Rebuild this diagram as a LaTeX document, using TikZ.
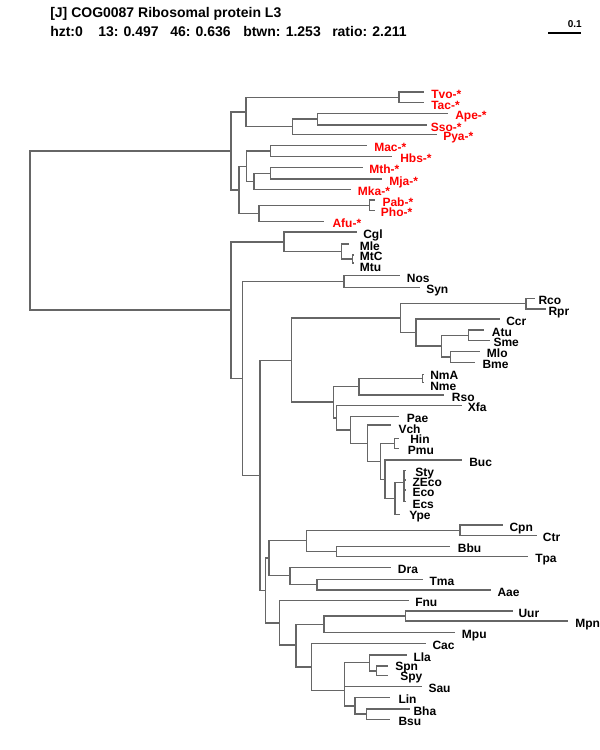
\documentclass[tikz,border=0pt]{standalone}
\usepackage{fontspec}
\setmainfont{Liberation Sans}
\definecolor{edgec}{HTML}{666666}
\definecolor{arch}{HTML}{FF0000}
\begin{document}
\begin{tikzpicture}[x=0.75pt,y=-0.75pt,
 br/.style={draw=edgec,line width=1.15pt},
 lf/.style={anchor=base west,inner sep=0pt,font=\bfseries\fontsize{9}{10}\selectfont},
 rl/.style={lf,text=arch},
 hd/.style={anchor=base west,inner sep=0pt,font=\bfseries\fontsize{10.5}{12}\selectfont}]
\useasboundingbox (0,0) rectangle (600,750);
% header
\node[hd] (title) at (50,17) {[J] COG0087 Ribosomal protein L3};
\node[hd] (h1) at (50,36) {hzt:0};
\node[hd] (h2) at (98,36) {13: 0.497};
\node[hd] (h3) at (170,36) {46: 0.636};
\node[hd] (h4) at (243,36) {btwn: 1.253};
\node[hd] (h5) at (332,36) {ratio: 2.211};
\coordinate (sb1) at (548,33);
\coordinate (sb2) at (581,33);
\draw[line width=0.9pt] (sb1) -- (sb2);
\node[anchor=base east,inner sep=0pt,font=\bfseries\fontsize{7.5}{9}\selectfont] (sbl) at (582,27) {0.1};
% internal nodes
\coordinate (R) at (30,230.5);
\coordinate (A) at (231,151);
\coordinate (B) at (231,310);
\coordinate (A1) at (246,112);
\coordinate (A11) at (399,97.3);
\coordinate (A12) at (292.7,126.7);
\coordinate (A121) at (317.7,119);
\coordinate (A2) at (239,190);
\coordinate (A21) at (246.7,166.5);
\coordinate (A211) at (270.7,151.2);
\coordinate (A212) at (254,181.5);
\coordinate (A2121) at (270.7,173.3);
\coordinate (A22) at (259,213.7);
\coordinate (A221) at (369.7,205.3);
\coordinate (B1) at (284,241.8);
\coordinate (B11) at (341.7,251.5);
\coordinate (B111) at (352.7,259);
\coordinate (B2) at (242.7,378.5);
\coordinate (NS) at (344,281.5);
\coordinate (B3) at (260,475.5);
\coordinate (P) at (291.7,360.5);
\coordinate (P1) at (400.7,318.1);
\coordinate (RR) at (526,303.6);
\coordinate (P11) at (416,332.7);
\coordinate (P111) at (441.7,346.2);
\coordinate (P1111) at (468.3,335.3);
\coordinate (P1112) at (450.7,357);
\coordinate (P2) at (333.3,402.2);
\coordinate (P21) at (359,386.7);
\coordinate (NN) at (422.7,378.3);
\coordinate (P22) at (336.7,417.8);
\coordinate (P221) at (350.7,430);
\coordinate (P2211) at (367.3,443.3);
\coordinate (P2212) at (380.7,461.5);
\coordinate (HP) at (394.3,443.3);
\coordinate (P2213) at (385,479.5);
\coordinate (P2214) at (395,498.5);
\coordinate (E) at (404,482.7);
\coordinate (B4) at (265.3,590.7);
\coordinate (C) at (269,558.2);
\coordinate (C1) at (306.7,540.7);
\coordinate (CC) at (460,530.3);
\coordinate (BT) at (336.7,551.7);
\coordinate (C2) at (290,575.5);
\coordinate (TA) at (317,584.7);
\coordinate (D) at (279.3,622.8);
\coordinate (D1) at (296,645);
\coordinate (D11) at (324,624.7);
\coordinate (UM) at (405.3,616);
\coordinate (D12) at (311.7,667);
\coordinate (D121) at (344.3,690.5);
\coordinate (D1211) at (344.3,674.5);
\coordinate (L) at (369.3,662.3);
\coordinate (SS) at (376.7,670.8);
\coordinate (D1212) at (355,705.8);
\coordinate (BB) at (366.7,714);
% leaf ends
\coordinate (tvo) at (424,92);
\coordinate (tac) at (424,102.7);
\coordinate (ape) at (447.7,113.3);
\coordinate (sso) at (426.7,125);
\coordinate (pya) at (436.7,134.3);
\coordinate (mac) at (366.7,145.7);
\coordinate (hbs) at (392.3,156.7);
\coordinate (mth) at (362.7,167.7);
\coordinate (mja) at (382.3,179);
\coordinate (mka) at (351,189.7);
\coordinate (pab) at (375,200);
\coordinate (pho) at (375,210.7);
\coordinate (afu) at (324.3,221.7);
\coordinate (cgl) at (356.7,232);
\coordinate (mle) at (349.3,244);
\coordinate (mtc) at (354,255);
\coordinate (mtu) at (354,263);
\coordinate (nos) at (400,275.7);
\coordinate (syn) at (420,287.3);
\coordinate (rco) at (535,298.3);
\coordinate (rpr) at (545.7,309);
\coordinate (ccr) at (500,319);
\coordinate (atu) at (484,330);
\coordinate (sme) at (490,340.7);
\coordinate (mlo) at (480,351.7);
\coordinate (bme) at (475,362.3);
\coordinate (nma) at (424,374.3);
\coordinate (nme) at (424,382.3);
\coordinate (rso) at (444,395);
\coordinate (xfa) at (461.7,405.7);
\coordinate (pae) at (399,416.7);
\coordinate (vch) at (391,425);
\coordinate (hin) at (399,438.3);
\coordinate (pmu) at (399,448.3);
\coordinate (buc) at (461.7,460);
\coordinate (sty) at (406,470.7);
\coordinate (zeco) at (406,480);
\coordinate (eco) at (406,490);
\coordinate (ecs) at (406,501.7);
\coordinate (ype) at (400,514.3);
\coordinate (cpn) at (502.7,525);
\coordinate (ctr) at (536.7,535.7);
\coordinate (bbu) at (450,546.7);
\coordinate (tpa) at (528.3,556.7);
\coordinate (dra) at (391,567.7);
\coordinate (tma) at (422.7,579.3);
\coordinate (aae) at (490.7,590);
\coordinate (fnu) at (409,600.7);
\coordinate (uur) at (513.3,611);
\coordinate (mpn) at (568.3,621);
\coordinate (mpu) at (455,632.7);
\coordinate (cac) at (426,643.3);
\coordinate (lla) at (406.7,655);
\coordinate (spn) at (388.3,666);
\coordinate (spy) at (388.3,675.7);
\coordinate (sau) at (421.7,686.7);
\coordinate (lin) at (390,697.7);
\coordinate (bha) at (410,709);
\coordinate (bsu) at (390,719.3);
% edges
\foreach \p/\c in {R/A,R/B,A/A1,A/A2,A1/A11,A1/A12,A11/tvo,A11/tac,A12/A121,A12/pya,
  A121/ape,A121/sso,A2/A21,A2/A22,A21/A211,A21/A212,A211/mac,A211/hbs,A212/A2121,A212/mka,
  A2121/mth,A2121/mja,A22/A221,A22/afu,A221/pab,A221/pho,
  B/B1,B/B2,B1/cgl,B1/B11,B11/mle,B11/B111,B111/mtc,B111/mtu,B2/NS,B2/B3,NS/nos,NS/syn,
  B3/P,B3/B4,P/P1,P/P2,P1/RR,P1/P11,RR/rco,RR/rpr,P11/ccr,P11/P111,P111/P1111,P111/P1112,
  P1111/atu,P1111/sme,P1112/mlo,P1112/bme,P2/P21,P2/P22,P21/NN,P21/rso,NN/nma,NN/nme,
  P22/xfa,P22/P221,P221/pae,P221/P2211,P2211/vch,P2211/P2212,P2212/HP,P2212/P2213,
  HP/hin,HP/pmu,P2213/buc,P2213/P2214,P2214/E,P2214/ype,E/sty,E/zeco,E/eco,E/ecs,
  B4/C,B4/D,C/C1,C/C2,C1/CC,C1/BT,CC/cpn,CC/ctr,BT/bbu,BT/tpa,C2/dra,C2/TA,TA/tma,TA/aae,
  D/fnu,D/D1,D1/D11,D1/D12,D11/UM,D11/mpu,UM/uur,UM/mpn,D12/cac,D12/D121,
  D121/D1211,D121/D1212,D1211/L,D1211/sau,L/lla,L/SS,SS/spn,SS/spy,D1212/lin,D1212/BB,
  BB/bha,BB/bsu}
  \draw[br] (\p) |- (\c);
% labels: archaea
\node[rl] (Ltvo) at (431,98) {Tvo-*};
\node[rl] (Ltac) at (431,109) {Tac-*};
\node[rl] (Lape) at (455,119.5) {Ape-*};
\node[rl] (Lsso) at (430.7,131) {Sso-*};
\node[rl] (Lpya) at (443,140.5) {Pya-*};
\node[rl] (Lmac) at (374,151.7) {Mac-*};
\node[rl] (Lhbs) at (400,162.7) {Hbs-*};
\node[rl] (Lmth) at (369,173.7) {Mth-*};
\node[rl] (Lmja) at (389,185) {Mja-*};
\node[rl] (Lmka) at (357.7,195.7) {Mka-*};
\node[rl] (Lpab) at (382.3,206) {Pab-*};
\node[rl] (Lpho) at (380.7,216.7) {Pho-*};
\node[rl] (Lafu) at (332.3,227.7) {Afu-*};
% labels: bacteria
\node[lf] (Lcgl) at (363,238.5) {Cgl};
\node[lf] (Lmle) at (359.5,250) {Mle};
\node[lf] (Lmtc) at (359.5,260) {MtC};
\node[lf] (Lmtu) at (359.5,271) {Mtu};
\node[lf] (Lnos) at (406.7,282) {Nos};
\node[lf] (Lsyn) at (426,293.5) {Syn};
\node[lf] (Lrco) at (538.3,304.3) {Rco};
\node[lf] (Lrpr) at (548.3,315) {Rpr};
\node[lf] (Lccr) at (506,325) {Ccr};
\node[lf] (Latu) at (491.7,336) {Atu};
\node[lf] (Lsme) at (493.3,346.7) {Sme};
\node[lf] (Lmlo) at (486.7,357.7) {Mlo};
\node[lf] (Lbme) at (482.3,368.3) {Bme};
\node[lf] (Lnma) at (430,379.3) {NmA};
\node[lf] (Lnme) at (430,390) {Nme};
\node[lf] (Lrso) at (451.7,401) {Rso};
\node[lf] (Lxfa) at (467.7,411.7) {Xfa};
\node[lf] (Lpae) at (406.7,422.7) {Pae};
\node[lf] (Lvch) at (398.3,433) {Vch};
\node[lf] (Lhin) at (410,443.3) {Hin};
\node[lf] (Lpmu) at (407.7,454.3) {Pmu};
\node[lf] (Lbuc) at (469,466) {Buc};
\node[lf] (Lsty) at (415,476.7) {Sty};
\node[lf] (Lzeco) at (412.3,486.7) {ZEco};
\node[lf] (Leco) at (412.3,496.7) {Eco};
\node[lf] (Lecs) at (412.3,508.3) {Ecs};
\node[lf] (Lype) at (409,519.5) {Ype};
\node[lf] (Lcpn) at (509.3,531) {Cpn};
\node[lf] (Lctr) at (542.7,541.7) {Ctr};
\node[lf] (Lbbu) at (457.7,552.7) {Bbu};
\node[lf] (Ltpa) at (535,562.7) {Tpa};
\node[lf] (Ldra) at (397.7,573.7) {Dra};
\node[lf] (Ltma) at (429.3,585.3) {Tma};
\node[lf] (Laae) at (497.3,596) {Aae};
\node[lf] (Lfnu) at (415,606.7) {Fnu};
\node[lf] (Luur) at (518.3,617) {Uur};
\node[lf] (Lmpn) at (575,627) {Mpn};
\node[lf] (Lmpu) at (461.7,638.7) {Mpu};
\node[lf] (Lcac) at (432.3,649.3) {Cac};
\node[lf] (Llla) at (413.3,661) {Lla};
\node[lf] (Lspn) at (395,670.7) {Spn};
\node[lf] (Lspy) at (400,680) {Spy};
\node[lf] (Lsau) at (428.3,692.7) {Sau};
\node[lf] (Llin) at (398.3,703.7) {Lin};
\node[lf] (Lbha) at (413.3,715) {Bha};
\node[lf] (Lbsu) at (398.3,725.3) {Bsu};
\end{tikzpicture}
\end{document}
